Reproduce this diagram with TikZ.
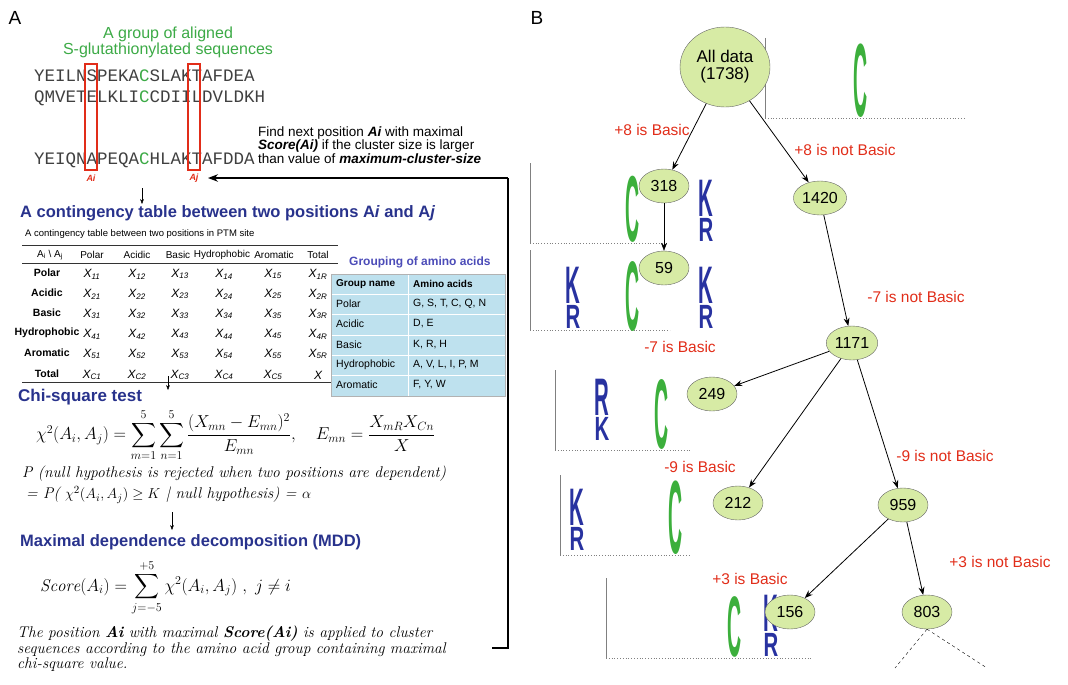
\documentclass[tikz,border=0pt]{standalone}
\usepackage{fontspec}
\usepackage{amsmath}
\setsansfont{Liberation Sans}
\setmonofont{Liberation Mono}
\usetikzlibrary{arrows.meta,shapes.geometric}
\definecolor{tgreen}{RGB}{60,170,70}
\definecolor{tblue}{RGB}{40,50,140}
\definecolor{tred}{RGB}{225,45,25}
\definecolor{lblue}{RGB}{190,225,238}
\definecolor{egreen}{RGB}{215,235,165}
\definecolor{cgreen}{RGB}{60,175,60}
\definecolor{kblue}{RGB}{40,50,160}
\newcommand{\fs}[1]{\fontsize{#1}{#1}\selectfont}
\newcommand{\bigC}[4]{\node[Cl] (#1) at (#2,#3) {\scalebox{0.75}[#4]{\fs{26}C}};}
\newcommand{\KRst}[4]{\node[Kl] (#1r) at (#2,#3) {\scalebox{0.85}[1.4]{\fs{24}#4}};}
\newcommand{\KRtop}[4]{\node[Kl] (#1k) at (#2,#3-25) {\scalebox{0.85}[2.2]{\fs{24}#4}};}
\begin{document}
\begin{tikzpicture}[x=1pt,y=-1pt,
  panel/.style={font=\sffamily\fs{19}},
  seq/.style={font=\ttfamily\fs{17.5},text=black!75,anchor=west,inner sep=0},
  head/.style={font=\sffamily\bfseries\fs{16.5},text=tblue,anchor=west,inner sep=0},
  cell/.style={font=\sffamily\itshape\fs{12},inner sep=0},
  rowl/.style={font=\sffamily\bfseries\fs{10.5},inner sep=0},
  colh/.style={font=\sffamily\fs{10},inner sep=0},
  gtab/.style={font=\sffamily\fs{10.5},anchor=west,inner sep=0},
  note/.style={font=\sffamily\fs{13.5},anchor=west,inner sep=0},
  leaf/.style={ellipse,draw=black!60,fill=egreen,font=\sffamily\fs{16},minimum width=50,minimum height=34,inner sep=1},
  lab/.style={font=\sffamily\fs{15.5},text=tred,inner sep=0},
  arr/.style={-{Stealth[length=8pt]},thick},
  Cl/.style={font=\sffamily\bfseries,text=cgreen,inner sep=0,anchor=base},
  Kl/.style={font=\sffamily\bfseries,text=kblue,inner sep=0,anchor=base}]
\useasboundingbox (0,0) rectangle (1068,685);
% ---------------- Panel A
\node[panel] (A) at (15,18) {A};
\node[panel] (B) at (537,18) {B};
\node[font=\sffamily\fs{16},text=tgreen,align=center] (title) at (168,42) {A group of aligned\\S-glutathionylated sequences};
\node[seq] (s1) at (34,76) {YEILNSPEKA\textcolor{tgreen}{C}SLAKTAFDEA};
\node[seq] (s2) at (34,98) {QMVETELKLI\textcolor{tgreen}{C}CDIILDVLDKH};
\node[seq] (s3) at (34,160) {YEIQNAPEQA\textcolor{tgreen}{C}HLAKTAFDDA};
\draw[tred,line width=1.4pt] (85,64) rectangle (97,170);
\draw[tred,line width=1.4pt] (188,64) rectangle (200,170);
\node[font=\sffamily\bfseries\itshape\fs{9},text=tred] (ai) at (91,178) {Ai};
\node[font=\sffamily\bfseries\itshape\fs{9},text=tred] (aj) at (194,178) {Aj};
\node[note,align=left] (find) at (258,145) {Find next position \textbf{\textit{Ai}} with maximal\\\textbf{\textit{Score(Ai)}} if the cluster size is larger\\than value of \textbf{\textit{maximum-cluster-size}}};
\coordinate (r1) at (508,178);
\coordinate (r2) at (508,648);
\coordinate (r3) at (492,648);
\coordinate (aend) at (208,178);
\draw[very thick] (r3) -- (r2) -- (r1);
\draw[very thick,-{Stealth[length=10pt]}] (r1) -- (aend);
\coordinate (d1a) at (142,188); \coordinate (d1b) at (142,204);
\draw[-{Stealth[length=5pt]}] (d1a) -- (d1b);
\node[head] (h1) at (20,213) {A contingency table between two positions A\textit{i} and A\textit{j}};
\node[font=\sffamily\fs{9.5},anchor=west,inner sep=0] (ct) at (25,234) {A contingency table between two positions in PTM site};
\draw[thick,black!80] (22,245) -- (338,245);
\draw[thick,black!80] (22,263) -- (338,263);
\draw[thick,black!80] (22,382) -- (338,382);
\node[colh] (hh0) at (50,255) {A\textsubscript{i} \textbackslash{} A\textsubscript{j}};
\foreach \t/\x in {Polar/92,Acidic/137,Basic/178,Hydrophobic/222,Aromatic/274,Total/318}
  \node[colh] (hh\x) at (\x,255) {\t};
\foreach \r/\y/\k in {Polar/273/1,Acidic/293/2,Basic/313/3,Hydrophobic/333/4,Aromatic/353/5,Total/374/C}{
  \node[rowl] (rl\k) at (47,\y) {\r};
  \foreach \c/\x in {1/92,2/137,3/180,4/224,5/273}
    \node[cell] (c\k\c) at (\x,\y+1) {X\textsubscript{\k\c}};
}
\foreach \k/\y in {1/273,2/293,3/313,4/333,5/353}
  \node[cell] (cR\k) at (318,\y+1) {X\textsubscript{\k R}};
\node[cell] (cX) at (318,375) {X};
% grouping table
\node[font=\sffamily\bfseries\fs{12},text=blue!60!black!70,anchor=west,inner sep=0] (gt) at (349,262) {Grouping of amino acids};
\fill[lblue] (331,274) rectangle (505,396);
\draw[white,thick] (331,274) rectangle (505,396);
\foreach \y in {294,314,335,355,375} \draw[white,thick] (331,\y) -- (505,\y);
\draw[white,thick] (408,274) -- (408,396);
\draw[black!30] (331,274) rectangle (505,396);
\node[gtab,font=\sffamily\bfseries\fs{10}] (g0a) at (336,284) {Group name};
\node[gtab,font=\sffamily\bfseries\fs{10}] (g0b) at (413,284) {Amino acids};
\foreach \a/\b/\y [count=\i] in {Polar/{G, S, T, C, Q, N}/304,Acidic/{D, E}/324,Basic/{K, R, H}/345,Hydrophobic/{A, V, L, I, P, M}/365,Aromatic/{F, Y, W}/385}{
  \node[gtab] (ga\i) at (336,\y) {\a};
  \node[gtab] (gb\i) at (413,\y) {\b};
}
\coordinate (d2a) at (168,376); \coordinate (d2b) at (168,390);
\draw[-{Stealth[length=5pt]}] (d2a) -- (d2b);
\node[head,font=\sffamily\bfseries\fs{17}] (h2) at (18,397) {Chi-square test};
\node[anchor=west,inner sep=0,font=\fs{17}] (f1) at (36,435) {$\chi^2(A_i,A_j)=\displaystyle\sum_{m=1}^{5}\sum_{n=1}^{5}\frac{(X_{mn}-E_{mn})^2}{E_{mn}},\quad E_{mn}=\frac{X_{mR}X_{Cn}}{X}$};
\node[anchor=west,inner sep=0,font=\itshape\fs{15.5}] (p1) at (22,474) {P (null hypothesis is rejected when two positions are dependent)};
\node[anchor=west,inner sep=0,font=\itshape\fs{15.5}] (p2) at (26,495) {= P( $\chi^2(A_i,A_j)\geq K$ | null hypothesis) = $\alpha$};
\coordinate (d3a) at (172,512); \coordinate (d3b) at (172,530);
\draw[-{Stealth[length=5pt]}] (d3a) -- (d3b);
\node[head,font=\sffamily\bfseries\fs{16.5}] (h3) at (20,542) {Maximal dependence decomposition (MDD)};
\node[anchor=west,inner sep=0,font=\fs{17}] (f2) at (40,588) {$\mathit{Score}(A_i)=\displaystyle\sum_{j=-5}^{+5}\chi^2(A_i,A_j)\ ,\ j\neq i$};
\node[anchor=west,inner sep=0,font=\itshape\fs{15.5},align=left] (fin) at (17,649) {The position \textbf{Ai} with maximal \textbf{Score(Ai)} is applied to cluster\\sequences according to the amino acid group containing maximal\\chi-square value.};
% ---------------- Panel B: logos
\foreach \x/\y/\w in {765/118/200,530/243/132,530/330/140,555/450/135,560/555/130,606/658/205}{
  \draw[black!50] (\x,\y-80) -- (\x,\y);
  \draw[black!50,dotted,thick] (\x,\y) -- (\x+\w,\y);
}
\bigC{Cm}{861}{116}{4.0}
\bigC{Ca}{633}{241}{3.6}
\KRst{a}{706}{241}{R}\KRtop{a}{706}{241}{K}
\bigC{Cb}{633}{330}{3.8}
\KRst{b1}{573}{328}{R}\KRtop{b1}{573}{328}{K}
\KRst{b2}{706}{328}{R}\KRtop{b2}{706}{328}{K}
\KRst{c}{602}{440}{K}\KRtop{c}{602}{440}{R}
\bigC{Cc}{662}{448}{3.8}
\KRst{d}{577}{550}{R}\KRtop{d}{577}{550}{K}
\bigC{Cd}{676}{553}{4.0}
\bigC{Ce}{735}{656}{3.3}
\KRst{e}{771}{656}{R}\KRtop{e}{771}{656}{K}
% tree
\node[leaf,minimum width=90,minimum height=80,align=center,font=\sffamily\fs{17}] (n0) at (725,67) {All data\\(1738)};
\node[leaf] (n318) at (664,186) {318};
\node[leaf] (n1420) at (820,198) {1420};
\node[leaf] (n59) at (664,268) {59};
\node[leaf] (n1171) at (852,343) {1171};
\node[leaf] (n249) at (712,394) {249};
\node[leaf] (n212) at (738,503) {212};
\node[leaf] (n959) at (903,505) {959};
\node[leaf] (n156) at (790,612) {156};
\node[leaf] (n803) at (927,612) {803};
\draw[arr] (n0) -- (n318);
\draw[arr] (n0) -- (n1420);
\draw[arr,thin] (n318) -- (n59);
\draw[arr] (n1420) -- (n1171);
\draw[arr] (n1171) -- (n249);
\draw[arr] (n1171) -- (n212);
\draw[arr] (n1171) -- (n959);
\draw[arr] (n959) -- (n156);
\draw[arr] (n959) -- (n803);
\coordinate (e1) at (895,668); \coordinate (e2) at (987,668);
\draw[dashed] (n803.south) -- (e1);
\draw[dashed] (n803.south) -- (e2);
\node[lab] (l1) at (652,130) {+8 is Basic};
\node[lab] (l2) at (845,150) {+8 is not Basic};
\node[lab] (l3) at (916,297) {-7 is not Basic};
\node[lab] (l4) at (680,347) {-7 is Basic};
\node[lab] (l5) at (945,456) {-9 is not Basic};
\node[lab] (l6) at (700,467) {-9 is Basic};
\node[lab] (l7) at (1000,562) {+3 is not Basic};
\node[lab] (l8) at (750,579) {+3 is Basic};
\end{tikzpicture}
\end{document}
